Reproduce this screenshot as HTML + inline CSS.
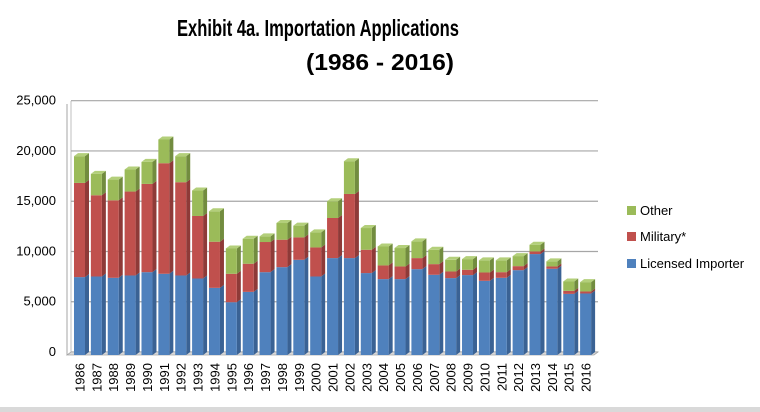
<!DOCTYPE html>
<html><head><meta charset="utf-8"><style>
html,body{margin:0;padding:0;background:#fff;}
svg{display:block;font-family:"Liberation Sans",Arial,sans-serif;}
</style></head><body>
<svg id="chart" width="760" height="412" viewBox="0 0 760 412" xmlns="http://www.w3.org/2000/svg">
<rect x="0" y="0" width="760" height="412" fill="#fff"/>
<rect x="0" y="407" width="760" height="5" fill="#d9d9d9"/>
<text x="318" y="36" text-anchor="middle" font-size="23" font-weight="bold" fill="#000" textLength="282" lengthAdjust="spacingAndGlyphs">Exhibit 4a. Importation Applications</text>
<text x="380" y="70" text-anchor="middle" font-size="23" font-weight="bold" fill="#000" textLength="148" lengthAdjust="spacingAndGlyphs">(1986 - 2016)</text>
<g id="grid"></g><g id="bars"></g><g id="axes"></g>
<g>
<rect x="627" y="206" width="9" height="9" fill="#9bbb59"/>
<text x="640" y="215" font-size="13">Other</text>
<rect x="627" y="232" width="9" height="9" fill="#c0504d"/>
<text x="640" y="241" font-size="13">Military*</text>
<rect x="627" y="259" width="9" height="9" fill="#4f81bd"/>
<text x="640" y="268" font-size="13">Licensed Importer</text>
</g>
</svg>
<script>
const years=["1986","1987","1988","1989","1990","1991","1992","1993","1994","1995","1996","1997","1998","1999","2000","2001","2002","2003","2004","2005","2006","2007","2008","2009","2010","2011","2012","2013","2014","2015","2016"];
const licensed=[7750,7810,7680,7910,8240,8080,7910,7610,6680,5250,6280,8240,8740,9470,7810,9640,9640,8150,7550,7550,8540,7980,7650,7950,7380,7680,8440,10040,8580,6080,6120];
const military=[9370,8080,7710,8350,8780,11000,9280,6220,4590,2830,2800,3000,2730,2230,2890,3990,6380,2320,1360,1260,1100,1060,660,530,830,560,400,260,230,300,200];
const other=[2660,2130,2060,2190,2190,2360,2590,2530,3030,2520,2490,560,1660,1170,1500,1660,3260,2160,1890,1830,1660,1430,1160,1060,1200,1170,1000,670,500,930,930];
const yTicks=[0,5000,10000,15000,20000,25000];
const tickLabels=["0","5,000","10,000","15,000","20,000","25,000"];
const NS="http://www.w3.org/2000/svg";
const yBack=v=>352-v/25000*251.3;
const yFront=v=>355-v/25000*251.3;
const xBar=i=>74+i*16.87;
const BW=11,D=4;
function mk(tag,attrs,parent){const e=document.createElementNS(NS,tag);for(const k in attrs)e.setAttribute(k,attrs[k]);parent.appendChild(e);return e;}
const grid=document.getElementById('grid'),bars=document.getElementById('bars'),axes=document.getElementById('axes');
const bw=mk('line',{x1:71,y1:101,x2:71,y2:352,stroke:'#bfbfbf','stroke-width':1},grid);


yTicks.forEach((v,i)=>{
  const l=mk('line',{x1:71,y1:yBack(v),x2:598,y2:yBack(v),stroke:'#a6a6a6','stroke-width':1.2},grid);
  
  
  const t=mk('text',{x:56,y:yFront(v)+1,'text-anchor':'end','font-size':13,fill:'#000'},axes);
  t.textContent=tickLabels[i];
  
  
});
const floor=mk('polygon',{points:'67,355 594,355 598,352 71,352',fill:'#d9d9d9',stroke:'#a6a6a6','stroke-width':0.8},grid);


const ax=mk('line',{x1:67,y1:104,x2:67,y2:355,stroke:'#a6a6a6','stroke-width':1},axes);


const series=[[licensed,'#4f81bd','#3a6294','#6a96cc','licensed'],[military,'#c0504d','#8e3a38','#d06e6b','military'],[other,'#9bbb59','#728c3f','#b3cf7a','other']];
years.forEach((yr,i)=>{
  let base=0;const x=xBar(i);
  series.forEach(s=>{
    const v=s[0][i];const top=base+v;
    const y1=yFront(top),y0=yFront(base);
    const side=mk('polygon',{points:`${x+BW},${y0} ${x+BW+D},${y0-3} ${x+BW+D},${y1-3} ${x+BW},${y1}`,fill:s[2]},bars);
    
    
    const r=mk('rect',{x:x,y:y1,width:BW,height:Math.max(0,y0-y1),fill:s[1]},bars);
    
    
    base=top;
  });
  const tp=mk('polygon',{points:`${x},${yFront(base)} ${x+D},${yFront(base)-3} ${x+BW+D},${yFront(base)-3} ${x+BW},${yFront(base)}`,fill:series[2][3]},bars);
  
  
  const t=mk('text',{x:0,y:0,'text-anchor':'end','font-size':13,fill:'#000',transform:`translate(${x+BW/2+5},363) rotate(-90)`},axes);
  t.textContent=yr;
  
  
});
</script>
</body></html>
